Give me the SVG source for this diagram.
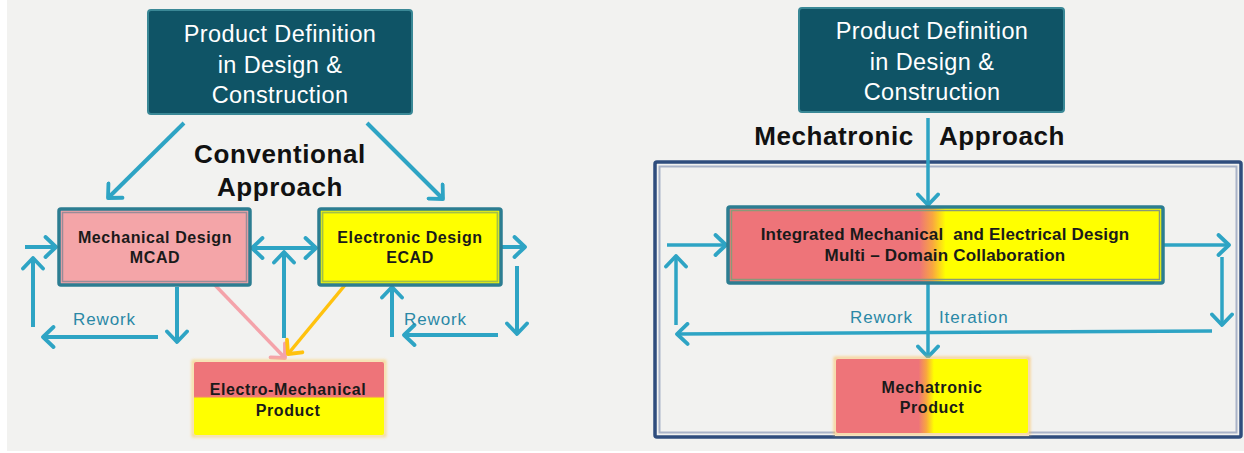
<svg xmlns="http://www.w3.org/2000/svg" width="1244" height="453" viewBox="0 0 1244 453">
<style>
.bg{fill:#f2f2f0}
.title{fill:#0f5466;stroke:#3a8896;stroke-width:2}
.tt{font-family:"Liberation Sans",Arial,sans-serif;font-size:23.5px;fill:#ffffff;text-anchor:middle;letter-spacing:0.4px}
.hd{font-family:"Liberation Sans",Arial,sans-serif;font-size:26px;font-weight:bold;fill:#111;letter-spacing:0.6px}
.bx{font-family:"Liberation Sans",Arial,sans-serif;font-size:16px;font-weight:bold;fill:#1a1a1a;text-anchor:middle;letter-spacing:0.6px}
.ib{font-family:"Liberation Sans",Arial,sans-serif;font-size:17px;font-weight:bold;fill:#1a1a1a;text-anchor:middle;white-space:pre;letter-spacing:0.2px}
.rw{font-family:"Liberation Sans",Arial,sans-serif;font-size:17px;fill:#2a88a6;letter-spacing:0.9px}
.c{fill:none;stroke:#2ea4c4;stroke-width:4;marker-end:url(#ah)}
.c3{fill:none;stroke:#2ea4c4;stroke-width:3.5;marker-end:url(#ah)}
</style>
<defs>
<marker id="ah" viewBox="0 0 16 24" refX="13.5" refY="12" markerWidth="16" markerHeight="24" markerUnits="userSpaceOnUse" orient="auto-start-reverse">
<path d="M3,2 L13.5,12 L3,22" fill="none" stroke="#2ea4c4" stroke-width="3.8" stroke-linecap="round" stroke-linejoin="round"/>
</marker>
<marker id="ahp" viewBox="0 0 16 24" refX="13.5" refY="12" markerWidth="16" markerHeight="24" markerUnits="userSpaceOnUse" orient="auto">
<path d="M3,2 L13.5,12 L3,22" fill="none" stroke="#f4a3aa" stroke-width="3.8" stroke-linecap="round" stroke-linejoin="round"/>
</marker>
<marker id="aho" viewBox="0 0 16 24" refX="13.5" refY="12" markerWidth="16" markerHeight="24" markerUnits="userSpaceOnUse" orient="auto">
<path d="M3,2 L13.5,12 L3,22" fill="none" stroke="#ffc20e" stroke-width="3.8" stroke-linecap="round" stroke-linejoin="round"/>
</marker>
<linearGradient id="gh" x1="0" y1="0" x2="1" y2="0">
<stop offset="0" stop-color="#ee7479"/>
<stop offset="0.44" stop-color="#ee7479"/>
<stop offset="0.47" stop-color="#f8a640"/>
<stop offset="0.5" stop-color="#ffff00"/>
<stop offset="1" stop-color="#ffff00"/>
</linearGradient>
<linearGradient id="gp" x1="0" y1="0" x2="1" y2="0">
<stop offset="0" stop-color="#ee7479"/>
<stop offset="0.43" stop-color="#ee7479"/>
<stop offset="0.47" stop-color="#f8a640"/>
<stop offset="0.51" stop-color="#ffff00"/>
<stop offset="1" stop-color="#ffff00"/>
</linearGradient>
<linearGradient id="gv" x1="0" y1="0" x2="0" y2="1">
<stop offset="0" stop-color="#ee7479"/>
<stop offset="0.47" stop-color="#ee7479"/>
<stop offset="0.5" stop-color="#ffff00"/>
<stop offset="1" stop-color="#ffff00"/>
</linearGradient>
<filter id="blur" x="-10%" y="-10%" width="120%" height="120%"><feGaussianBlur stdDeviation="1.5"/></filter>
</defs>

<rect x="0" y="0" width="1244" height="453" fill="#ffffff"/>
<rect class="bg" x="7" y="0" width="1237" height="451"/>

<g id="frame">
<rect x="655" y="162" width="586" height="275" fill="none" stroke="#2f4d7d" stroke-width="3.5" rx="2"/>
<rect x="659.5" y="166.5" width="577" height="266" fill="none" stroke="#a9b3c8" stroke-width="2"/>
</g>

<g id="conventional-label">
<text class="hd" x="280" y="163" text-anchor="middle">Conventional</text>
<text class="hd" x="280" y="196" text-anchor="middle">Approach</text>
</g>
<g id="mechatronic-label">
<text class="hd" x="834" y="145" text-anchor="middle">Mechatronic</text>
<text class="hd" x="1002" y="145" text-anchor="middle">Approach</text>
</g>

<g id="connectors">
<path class="c" d="M184,123 L108,198"/>
<path class="c" d="M367,123 L443,199"/>
<path class="c" d="M252,248 L316,248" style="marker-start:url(#ah)"/>
<path class="c" d="M284,338 L284,252"/>
<path class="c" d="M25,247 L56,247"/>
<path class="c" d="M33,327 L33,258"/>
<path class="c" d="M158,337 L43,337"/>
<path class="c" d="M177,287 L177,342"/>
<path class="c" d="M502,247 L525,247"/>
<path class="c" d="M517,266 L517,334"/>
<path class="c" d="M498,335 L404,335"/>
<path class="c" d="M392,337 L392,287"/>
<path d="M213,283 L285,358" fill="none" stroke="#f4a3aa" stroke-width="3.5" marker-end="url(#ahp)"/>
<path d="M350,279 L288,354" fill="none" stroke="#ffc20e" stroke-width="3.5" marker-end="url(#aho)"/>
<path class="c3" d="M928,118 L928,205"/>
<path class="c3" d="M667,245 L726,245"/>
<path class="c3" d="M1163,245 L1229,245"/>
<path class="c3" d="M1222,257 L1222,325"/>
<path class="c3" d="M1212,331 L677,334"/>
<path class="c3" d="M676,325 L676,256"/>
<path class="c3" d="M928,283 L928,357"/>
</g>

<g id="title-left">
<rect class="title" x="148" y="10" width="264" height="104" rx="3"/>
<text class="tt" x="280" y="42">Product Definition</text>
<text class="tt" x="280" y="73">in Design &amp;</text>
<text class="tt" x="280" y="103">Construction</text>
</g>

<g id="title-right">
<rect class="title" x="799" y="8" width="265" height="104" rx="3"/>
<text class="tt" x="932" y="39">Product Definition</text>
<text class="tt" x="932" y="70">in Design &amp;</text>
<text class="tt" x="932" y="100">Construction</text>
</g>

<g id="mcad">
<rect x="59" y="209" width="191" height="76" fill="#f4a5a8" stroke="#2c7d91" stroke-width="3.5" rx="2"/>
<rect x="62.5" y="212.5" width="184" height="69" fill="none" stroke="#9a8c98" stroke-width="1.5"/>
<text class="bx" x="155" y="243">Mechanical Design</text>
<text class="bx" x="155" y="263">MCAD</text>
</g>

<g id="ecad">
<rect x="319" y="209" width="182" height="76" fill="#ffff00" stroke="#2c7d91" stroke-width="3.5" rx="2"/>
<rect x="322.5" y="212.5" width="175" height="69" fill="none" stroke="#a4c048" stroke-width="1.8"/>
<text class="bx" x="410" y="243">Electronic Design</text>
<text class="bx" x="410" y="263">ECAD</text>
</g>

<g id="electro-mechanical-product">
<rect x="193" y="361" width="192" height="75" fill="none" stroke="#f9d070" stroke-width="2.5" filter="url(#blur)" opacity="0.8"/>
<rect x="194" y="362" width="190" height="73" fill="url(#gv)" rx="2"/>
<text class="bx" x="288" y="395">Electro-Mechanical</text>
<text class="bx" x="288" y="416">Product</text>
</g>

<g id="integrated-design">
<rect x="728" y="207" width="435" height="76" fill="url(#gh)" stroke="#2c7d91" stroke-width="3.5" rx="2"/>
<rect x="731.5" y="210.5" width="428" height="69" fill="none" stroke="#8a9a78" stroke-width="1.5"/>
<text class="ib" x="945" y="240">Integrated Mechanical  and Electrical Design</text>
<text class="ib" x="945" y="261">Multi – Domain Collaboration</text>
</g>

<g id="mechatronic-product">
<rect x="835" y="358" width="194" height="78" fill="#f2f2f0" stroke="none"/>
<rect x="835" y="358" width="194" height="76" fill="none" stroke="#f9c060" stroke-width="2.5" filter="url(#blur)" opacity="0.8"/>
<rect x="836" y="359" width="192" height="74" fill="url(#gp)" rx="2"/>
<text class="bx" x="932" y="393">Mechatronic</text>
<text class="bx" x="932" y="413">Product</text>
</g>

<g id="rework-labels">
<text class="rw" x="73" y="325">Rework</text>
<text class="rw" x="404" y="325">Rework</text>
<text class="rw" x="850" y="323">Rework</text>
<text class="rw" x="939" y="323">Iteration</text>
</g>
</svg>
